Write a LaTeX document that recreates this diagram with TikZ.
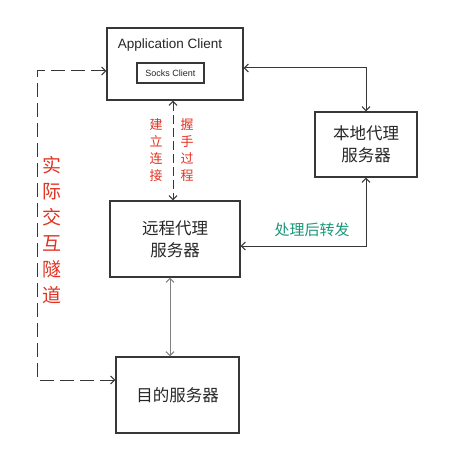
\documentclass[tikz,border=0pt]{standalone}
\usepackage{fontspec}
\setmainfont{Liberation Sans}
\newfontfamily\cjk{Noto Sans CJK SC}
\usetikzlibrary{arrows.meta}
\definecolor{linegray}{RGB}{55,55,55}
\definecolor{hand}{RGB}{225,50,35}
\definecolor{handgreen}{RGB}{25,150,120}

\begin{document}
\begin{tikzpicture}[> = {Straight Barb[length=4pt, width=8pt]}, % arrow head style
                x = 1pt, y = -1pt, % pixel grid, y downwards
                color = linegray, line width = 1pt % line style
            ]
            \useasboundingbox (0,0) rectangle (463,457);

            \tikzstyle{box}=[draw = linegray, line width = 1.4pt, inner sep = 0pt,
            align = center, text = black!85, font = \cjk\fontsize{16.5}{22}\selectfont]
            \tikzstyle{note}=[text = hand, inner sep = 0pt, align = center,
            font = \cjk\fontsize{13}{17}\selectfont]

            % boxes
            \node (app) [box, minimum width = 136, minimum height = 72] at (175,64) {};
            \node (apptitle) [text = black!85, font = \fontsize{13.5}{16}\selectfont] at (170,45) {Application Client};
            \node (socks) [box, line width = 1.1pt, minimum width = 67, minimum height = 20,
            font = \fontsize{9}{11}\selectfont] at (170.5,73) {Socks Client};
            \node (local) [box, minimum width = 102, minimum height = 65] at (366,144.5) {本地代理\\服务器};
            \node (remote) [box, minimum width = 130, minimum height = 76] at (175,239) {远程代理\\服务器};
            \node (dest) [box, minimum width = 123, minimum height = 76] at (177.5,395) {目的服务器};

            % handwritten notes
            \node (build) [note] at (156,150) {建\\立\\连\\接};
            \node (shake) [note] at (187,150) {握\\手\\过\\程};
            \node (real) [note, font = \cjk\fontsize{19}{26}\selectfont] at (52,230) {实\\际\\交\\互\\隧\\道};
            \node (relay) [note, text = handgreen, font = \cjk\fontsize{15}{17}\selectfont] at (312,230) {处理后转发};

            \coordinate (tunnel) at (37,71);

            \draw[<->] ([yshift=-4pt]app.east) -| (local.north);
            \draw[<->] (local.south) |- ([yshift=-7pt]remote.east);
            \draw[<->, dash pattern = on 9pt off 4pt] ([xshift=-2pt]app.south) -- ([xshift=-2pt]remote.north);
            \draw[<->, color = gray] ([xshift=-5pt]remote.south) -- ([xshift=-7.5pt]dest.north);
            \draw[<->, dash pattern = on 14pt off 6pt] ([yshift=-7pt]app.west) -- (tunnel)
            |- ([yshift=15pt]dest.west);
        \end{tikzpicture}
\end{document}
